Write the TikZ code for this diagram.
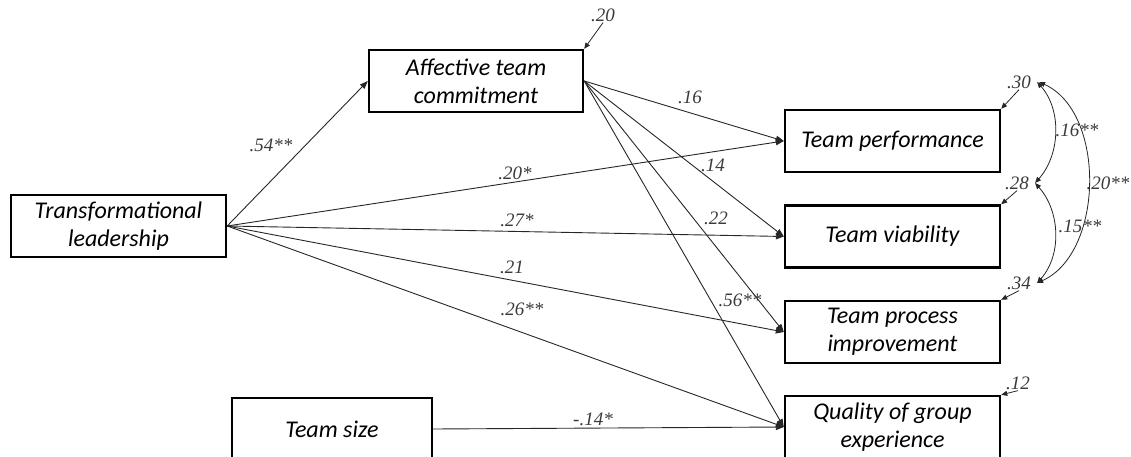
\documentclass[tikz,border=0pt]{standalone}
\usepackage{fontspec}
\setmainfont{Carlito}
\newfontfamily\coeffont{Liberation Serif}
\usetikzlibrary{arrows.meta}
\definecolor{coefgray}{HTML}{3A3A3A}
\tikzset{
  varBox/.style={draw=black, line width=2.4pt, minimum width=215pt, minimum height=62pt,
    align=center, inner sep=0pt, font=\fontsize{24}{28}\selectfont\itshape},
  pathArrow/.style={draw=black!85, line width=0.9pt, -{Triangle[length=8pt,width=6pt]}},
  errArrow/.style={draw=black!85, line width=0.8pt, -{Triangle[length=6pt,width=5pt]}},
  covArrow/.style={draw=black!85, line width=0.8pt,
    {Triangle[length=6pt,width=5pt]}-{Triangle[length=6pt,width=5pt]}},
  coefLabel/.style={text=coefgray, inner sep=1pt, font=\coeffont\fontsize{19}{21}\selectfont\itshape}
}

\begin{document}
\begin{tikzpicture}[x=1pt,y=-1pt]
  \path[use as bounding box, clip] (0,0) rectangle (1131,457);

  % variables
  \node[varBox] (lead) at (118.5,226) {Transformational\\leadership};
  \node[varBox, minimum width=214pt] (commit) at (476,81) {Affective team\\commitment};
  \node[varBox, minimum width=200pt] (size) at (332,429) {Team size};
  \node[varBox] (perf) at (892.5,141) {Team performance};
  \node[varBox] (viab) at (892.5,236.5) {Team viability};
  \node[varBox] (proc) at (892.5,332) {Team process\\improvement};
  \node[varBox] (qual) at (892.5,427) {Quality of group\\experience};

  % paths from leadership
  \draw[pathArrow] (lead.east) -- (commit.west);
  \draw[pathArrow] (lead.east) -- (perf.west);
  \draw[pathArrow] (lead.east) -- (viab.west);
  \draw[pathArrow] (lead.east) -- (proc.west);
  \draw[pathArrow] (lead.east) -- (qual.west);

  % paths from commitment
  \draw[pathArrow] (commit.east) -- (perf.west);
  \draw[pathArrow] (commit.east) -- (viab.west);
  \draw[pathArrow] (commit.east) -- (proc.west);
  \draw[pathArrow] (commit.east) -- (qual.west);

  \draw[pathArrow] (size.east) -- (qual.west);

  % coefficients
  \node[coefLabel] (cLC) at (271,145) {.54**};
  \node[coefLabel] (cLP) at (515,173) {.20*};
  \node[coefLabel] (cLV) at (517,220) {.27*};
  \node[coefLabel] (cLI) at (512,267) {.21};
  \node[coefLabel] (cLQ) at (522,309) {.26**};
  \node[coefLabel] (cCP) at (690,97) {.16};
  \node[coefLabel] (cCV) at (713,165) {.14};
  \node[coefLabel] (cCI) at (716,218) {.22};
  \node[coefLabel] (cCQ) at (740,300) {.56**};
  \node[coefLabel] (cSQ) at (593,419) {-.14*};

  % residuals
  \node[coefLabel] (eCommit) at (603,15) {.20};
  \node[coefLabel] (ePerf) at (1019,82) {.30};
  \node[coefLabel] (eViab) at (1017,183) {.28};
  \node[coefLabel] (eProc) at (1019,283) {.34};
  \node[coefLabel] (eQual) at (1018,383) {.12};
  \draw[errArrow] (eCommit.south) -- (commit.north east);
  \draw[errArrow] (ePerf.south) -- (perf.north east);
  \draw[errArrow] (eViab.south) -- (viab.north east);
  \draw[errArrow] (eProc.south) -- (proc.north east);
  \draw[errArrow] (eQual.south) -- (qual.north east);

  % residual covariances
  \draw[covArrow] ([xshift=5pt]ePerf.east) .. controls +(25,28) and +(25,-28) .. ([xshift=5pt]eViab.east);
  \draw[covArrow] ([xshift=5pt]eViab.east) .. controls +(25,28) and +(25,-28) .. ([xshift=5pt]eProc.east);
  \draw[covArrow] ([xshift=7pt]ePerf.east) .. controls +(67,30) and +(67,-30) .. ([xshift=5pt]eProc.east);
  \node[coefLabel] (cPV) at (1077,130) {.16**};
  \node[coefLabel] (cVI) at (1080,226) {.15**};
  \node[coefLabel] (cPI) at (1108,183) {.20**};
\end{tikzpicture}
\end{document}
